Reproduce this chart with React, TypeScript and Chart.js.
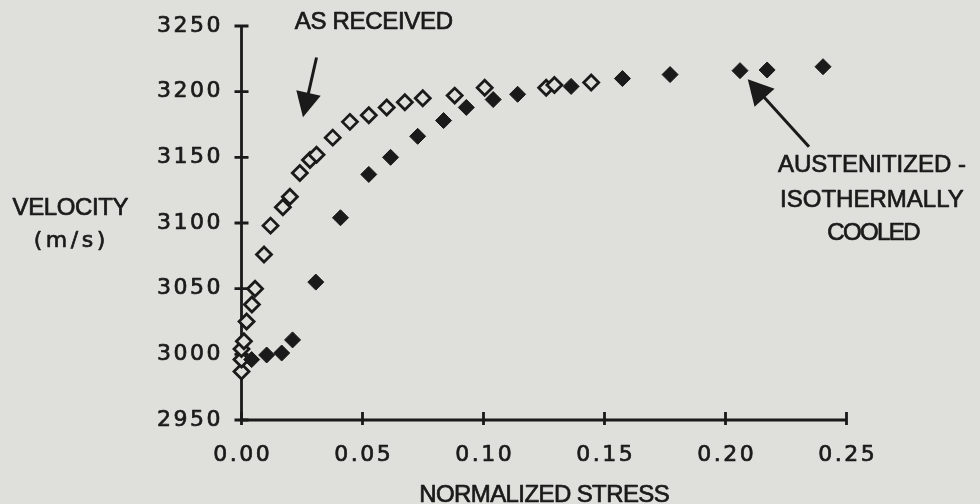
import React, { useEffect, useRef } from "react";
import { Chart, registerables } from "chart.js";

Chart.register(...registerables);

// ---- Data ----
const asReceivedStress = [
  0.0, 0.0, 0.0, 0.001, 0.0021, 0.0043, 0.0056, 0.0093, 0.012, 0.0171, 0.02,
  0.0241, 0.0283, 0.031, 0.0377, 0.0448, 0.0526, 0.06, 0.0675, 0.0749, 0.0881,
  0.1005, 0.1259, 0.1293, 0.1445,
];
const asReceivedVelocity = [
  2987, 2996, 3004, 3010, 3025, 3038, 3050, 3076, 3098, 3112, 3120,
  3138, 3148, 3152, 3165, 3177, 3182, 3188, 3192, 3195, 3197,
  3203, 3203, 3205, 3207,
];
const austenitizedStress = [
  0.0042, 0.0104, 0.0166, 0.0211, 0.0307, 0.0409, 0.0526, 0.0616, 0.0728,
  0.0835, 0.0929, 0.104, 0.1141, 0.1362, 0.1574, 0.1771, 0.206, 0.2172, 0.2403,
];
const austenitizedVelocity = [
  2996, 2999.5, 3001, 3011, 3055, 3104, 3137, 3150, 3166,
  3178, 3188, 3194, 3198, 3204, 3210, 3213, 3216, 3216.5, 3219,
];
const xTicks = [0, 0.05, 0.1, 0.15, 0.2, 0.25];
const xTickLabels = ["0.00", "0.05", "0.10", "0.15", "0.20", "0.25"];
const yTicks = [2950, 3000, 3050, 3100, 3150, 3200, 3250];
const yTickLabels = ["2950", "3000", "3050", "3100", "3150", "3200", "3250"];

const xTitle = "NORMALIZED STRESS";
const yTitleLines = ["VELOCITY", "(m/s)"];
const label1 = "AS RECEIVED";
const label2Lines = ["AUSTENITIZED -", "ISOTHERMALLY", "COOLED"];

const BG = "#dfe0db";
const INK = "#1b1a1a";

function drawText(ctx: CanvasRenderingContext2D, text: string, x: number, y: number, font: string, spacing: number, align: "center" | "right" | "left") {
  ctx.save();
  ctx.font = font;
  (ctx as any).letterSpacing = spacing + "px";
  ctx.fillStyle = INK;
  ctx.strokeStyle = INK;
  ctx.lineWidth = 0.7;
  ctx.lineJoin = "round";
  ctx.textBaseline = "middle";
  ctx.textAlign = "left";
  const w = ctx.measureText(text).width - spacing;
  let sx = x;
  if (align === "center") sx = x - w / 2;
  else if (align === "right") sx = x - w;
  ctx.fillText(text, sx, y);
  ctx.strokeText(text, sx, y);
  ctx.restore();
}

function drawArrow(ctx: CanvasRenderingContext2D, x0: number, y0: number, x1: number, y1: number, headLen: number, halfW: number) {
  const dx = x1 - x0, dy = y1 - y0;
  const len = Math.hypot(dx, dy);
  const ux = dx / len, uy = dy / len;
  const bx = x1 - ux * headLen, by = y1 - uy * headLen;
  ctx.save();
  ctx.strokeStyle = INK;
  ctx.fillStyle = INK;
  ctx.lineWidth = 3;
  ctx.beginPath();
  ctx.moveTo(x0, y0);
  ctx.lineTo(bx + ux * 2, by + uy * 2);
  ctx.stroke();
  ctx.beginPath();
  ctx.moveTo(x1, y1);
  ctx.lineTo(bx - uy * halfW, by + ux * halfW);
  ctx.lineTo(bx + uy * halfW, by - ux * halfW);
  ctx.closePath();
  ctx.fill();
  ctx.restore();
}

const decorPlugin = {
  id: "decor",
  beforeDraw(chart: any) {
    const ctx = chart.ctx;
    ctx.save();
    ctx.fillStyle = BG;
    ctx.fillRect(0, 0, chart.width, chart.height);
    ctx.restore();
  },
  beforeDatasetsDraw(chart: any) {
    const ctx: CanvasRenderingContext2D = chart.ctx;
    const xs = chart.scales.x;
    const ys = chart.scales.y;
    const x0 = xs.getPixelForValue(xTicks[0]);
    const x1 = xs.getPixelForValue(xTicks[xTicks.length - 1]);
    const y0 = ys.getPixelForValue(yTicks[0]);
    const y1 = ys.getPixelForValue(yTicks[yTicks.length - 1]);
    ctx.save();
    ctx.strokeStyle = INK;
    ctx.lineWidth = 2.8;
    ctx.lineCap = "butt";
    ctx.beginPath();
    ctx.moveTo(x0, y0);
    ctx.lineTo(x0, y1);
    ctx.moveTo(x0 - 1.4, y0);
    ctx.lineTo(x1, y0);
    ctx.stroke();
    ctx.lineWidth = 2.8;
    ctx.beginPath();
    yTicks.forEach((v) => {
      const p = ys.getPixelForValue(v);
      ctx.moveTo(x0 - 7, p);
      ctx.lineTo(x0 + 7, p);
    });
    xTicks.forEach((v) => {
      const p = xs.getPixelForValue(v);
      ctx.moveTo(p, y0 - 8);
      ctx.lineTo(p, y0 + 5);
    });
    ctx.stroke();
    ctx.restore();

    const tickFont = "22px 'DejaVu Sans', Verdana, sans-serif";
    yTicks.forEach((v, i) => {
      drawText(ctx, yTickLabels[i], x0 - 21, ys.getPixelForValue(v), tickFont, 2.5, "right");
    });
    xTicks.forEach((v, i) => {
      drawText(ctx, xTickLabels[i], xs.getPixelForValue(v), y0 + 35, tickFont, 2.5, "center");
    });

    const lblFont = "24px 'Liberation Sans', Arial, sans-serif";
    drawText(ctx, xTitle, (x0 + x1) / 2 + 0.5, y0 + 75, lblFont, -0.6, "center");
    drawText(ctx, yTitleLines[0], x0 - 171, ys.getPixelForValue(3111), lblFont, -0.4, "center");
    drawText(ctx, yTitleLines[1], x0 - 172, ys.getPixelForValue(3086), tickFont, 3.5, "center");

    // annotations (in data coordinates)
    drawText(ctx, label1, xs.getPixelForValue(0.0547), ys.getPixelForValue(3253), lblFont, -0.3, "center");
    const l2x = xs.getPixelForValue(0.2605);
    drawText(ctx, label2Lines[0], l2x, ys.getPixelForValue(3144), lblFont, 0, "center");
    drawText(ctx, label2Lines[1], l2x, ys.getPixelForValue(3117.5), lblFont, 0, "center");
    drawText(ctx, label2Lines[2], l2x + 2, ys.getPixelForValue(3092), lblFont, -1.6, "center");
  },
  afterDatasetsDraw(chart: any) {
    const ctx: CanvasRenderingContext2D = chart.ctx;
    const xs = chart.scales.x;
    const ys = chart.scales.y;
    drawArrow(ctx, xs.getPixelForValue(0.031), ys.getPixelForValue(3226), xs.getPixelForValue(0.0254), ys.getPixelForValue(3180.5), 25, 12.5);
    drawArrow(ctx, xs.getPixelForValue(0.2345), ys.getPixelForValue(3158), xs.getPixelForValue(0.2092), ys.getPixelForValue(3209.5), 25, 13.5);
  },
};

export default function App() {
  const ref = useRef<HTMLCanvasElement | null>(null);
  useEffect(() => {
    document.body.style.margin = "0";
    document.body.style.background = BG;
    const canvas = ref.current!;
    const chart = new Chart(canvas, {
      type: "scatter",
      data: {
        datasets: [
          {
            label: "Austenitized - isothermally cooled",
            data: austenitizedStress.map((x, i) => ({ x, y: austenitizedVelocity[i] })),
            pointStyle: "rectRot",
            pointRadius: 8,
            pointBackgroundColor: INK,
            pointBorderColor: INK,
            pointBorderWidth: 1,
            clip: false,
          } as any,
          {
            label: "As received",
            data: asReceivedStress.map((x, i) => ({ x, y: asReceivedVelocity[i] })),
            pointStyle: "rectRot",
            pointRadius: 7.5,
            pointBackgroundColor: BG,
            pointBorderColor: INK,
            pointBorderWidth: 2.8,
            clip: false,
          } as any,
        ],
      },
      options: {
        responsive: false,
        animation: false,
        events: [],
        layout: { padding: { left: 241.5, right: 133.5, top: 26, bottom: 84 } },
        plugins: { legend: { display: false }, tooltip: { enabled: false } },
        scales: {
          x: { type: "linear", min: 0, max: 0.25, display: false },
          y: { type: "linear", min: 2950, max: 3250, display: false },
        },
      },
      plugins: [decorPlugin],
    });
    return () => chart.destroy();
  }, []);
  return (
    <div style={{ width: 980, height: 504, background: BG }}>
      <canvas ref={ref} width={980} height={504} style={{ display: "block" }} />
    </div>
  );
}
